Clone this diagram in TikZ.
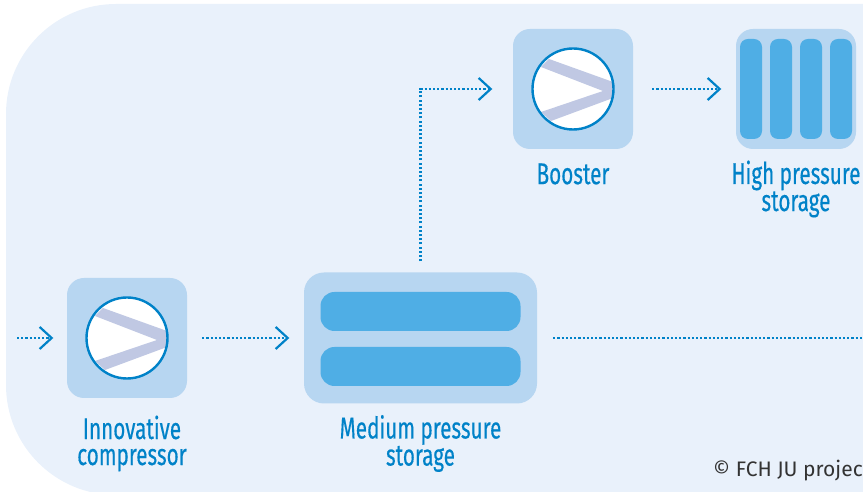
\documentclass[tikz,border=0pt]{standalone}
\usepackage{fontspec}
\usetikzlibrary{arrows.meta}
\newfontfamily\labelfont[FakeStretch=0.69,FakeBold=0.35]{Fira Sans}
\newfontfamily\notefont{Fira Sans}
\definecolor{panelblue}{HTML}{E9F1FB}
\definecolor{boxblue}{HTML}{B7D6F1}
\definecolor{tankblue}{HTML}{4FAEE5}
\definecolor{lineblue}{HTML}{0082C8}
\definecolor{bandblue}{HTML}{C0C8E3}
\tikzset{node distance=26pt, auto,
  unit/.style={fill=boxblue, rounded corners=17pt, minimum width=120pt, minimum height=120pt, inner sep=0pt},
  tank/.style={fill=tankblue, rounded corners=8pt, inner sep=0pt},
  caption/.style={text=lineblue, font=\labelfont\fontsize{30}{26}\selectfont, align=center, inner sep=0pt},
  flow/.style={draw=lineblue, line width=2.1pt, dash pattern=on 2.1pt off 2.1pt, -{Straight Barb[length=12pt,width=22pt,line width=2.2pt]}}
}
\begin{document}
\begin{tikzpicture}[x=1pt, y=1pt]
  \useasboundingbox (0,0) rectangle (863,492);
  \fill[panelblue, rounded corners=110pt] (6,-3) rectangle (1000,488);

  \node[unit] (compressor) at (127,154) {};
  \node[unit, rounded corners=20pt, minimum width=233pt, minimum height=131pt, right of=compressor, node distance=293.5pt] (medium) {};
  \node[unit] (booster) at (573,403) {};
  \node[unit, right of=booster, node distance=223pt] (high) {};
  \coordinate (inlet) at (17,154);
  \coordinate (outlet) at (875,154);

  % storage tanks
  \node[tank, rounded corners=14pt, minimum width=200pt, minimum height=39pt, above of=medium, node distance=27.5pt, yshift=-1pt] (mtop) {};
  \node[tank, rounded corners=14pt, minimum width=200pt, minimum height=39pt, below of=medium, node distance=27.5pt, yshift=-1pt] (mbottom) {};
  \foreach \i/\dx in {1/-45,2/-15,3/15,4/45}
    \node[tank, minimum width=22pt, minimum height=100pt, right of=high, node distance=\dx pt] (hbar\i) {};

  % the two pumps
  \foreach \pump in {compressor,booster} {
    \begin{scope}[shift={(\pump.center)}]
      \fill[white] (0,0) circle (40.5);
      \begin{scope}
        \clip (0,0) circle (40.5);
        \fill[bandblue] (-24,30) -- (40,7) -- (40,-9) -- (-22,-32) -- (-32,-23) -- (30,-2) -- (-32,22) -- cycle;
      \end{scope}
      \draw[lineblue, line width=2.4pt] (0,0) circle (40.5);
    \end{scope}
  }

  \node[caption, below of=compressor, node distance=105.5pt, xshift=5pt] (lblcompressor) {Innovative\\compressor};
  \node[caption, below of=medium, node distance=105.5pt] (lblmedium) {Medium pressure\\storage};
  \node[caption, below of=booster, node distance=85pt] (lblbooster) {Booster};
  \node[caption, below of=high, node distance=100pt] (lblhigh) {High pressure\\storage};
  \node[anchor=west, inner sep=0pt, text=black!80, font=\notefont\fontsize{21}{23}\selectfont] (credit) at (713,21) {© FCH JU projec};

  \draw[flow, shorten >=13.5pt] (inlet) -- (compressor);
  \draw[flow, shorten <=15pt, shorten >=14.5pt] (compressor) -- (medium);
  \draw[flow, shorten <=11pt, shorten >=20.5pt] (medium.north) |- (booster);
  \draw[flow, shorten <=19pt, shorten >=14.5pt] (booster) -- (high);
  \draw[flow, -, shorten <=16pt] (medium) -- (outlet);
\end{tikzpicture}
\end{document}
